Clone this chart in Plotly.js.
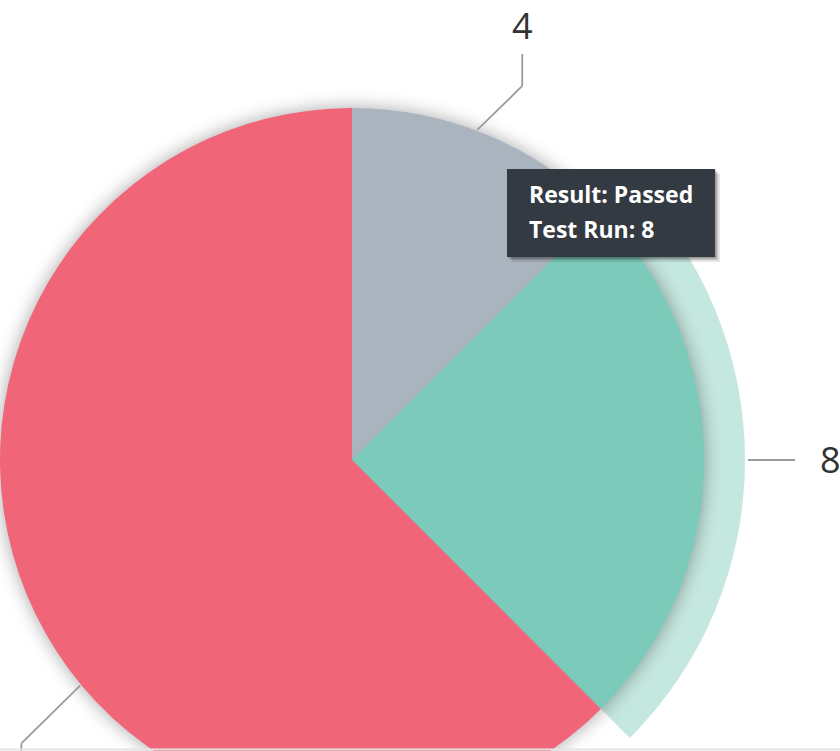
<!DOCTYPE html>
<html>
<head>
<meta charset="utf-8">
<script src="https://cdn.plot.ly/plotly-3.0.1.min.js"></script>
<style>
  html, body { margin: 0; padding: 0; width: 840px; height: 751px; overflow: hidden; background: #fff; }
  #chart { position: absolute; left: -50px; top: 0; width: 940px; height: 920px; }
</style>
</head>
<body>
<div id="chart"></div>
<script>
// ---- data ----
const categories = ["Not Run", "Passed", "Failed"];
const testRuns = [4, 8, 20];
const sliceColors = ["#aab4be", "#7ccab9", "#f06578"];
const tooltipLines = ["Result: Passed", "Test Run: 8"];
const hoveredIndex = 1;

// ---- geometry (page pixels) ----
const W = 940, H = 920, OFFX = 50;      // div size and left offset
const CX = 352, CY = 460, R = 352;      // pie center and radius
const HALO = 41;                        // halo ring width
const px = x => (x + OFFX) / W;
const py = y => 1 - y / H;

const total = testRuns.reduce((a, b) => a + b, 0);
function midAngle(i) {
  let s = 0; for (let k = 0; k < i; k++) s += testRuns[k];
  return (s + testRuns[i] / 2) / total * 2 * Math.PI;
}
function polar(a, r) { return [CX + r * Math.sin(a), CY - r * Math.cos(a)]; }

const mainDomain = { x: [px(CX - R), px(CX + R)], y: [py(CY + R), py(CY - R)] };
const haloDomain = { x: [px(CX - R - HALO), px(CX + R + HALO)], y: [py(CY + R + HALO), py(CY - R - HALO)] };

const haloColors = sliceColors.map((c, i) => i === hoveredIndex ? "rgba(124,202,185,0.45)" : "rgba(0,0,0,0)");

const traces = [
  {
    type: "pie", values: testRuns, labels: categories, sort: false, direction: "clockwise", rotation: 0,
    marker: { colors: haloColors, line: { width: 0 } }, textinfo: "none", hoverinfo: "skip",
    domain: haloDomain, showlegend: false
  },
  {
    type: "pie", values: testRuns, labels: categories, sort: false, direction: "clockwise", rotation: 0,
    marker: { colors: sliceColors, line: { width: 0 } }, textinfo: "none", hoverinfo: "none",
    domain: mainDomain, showlegend: false
  }
];

// ---- data-label connectors ----
const lineStyle = { color: "#9a9a9a", width: 1.8 };
const shapes = [];
const annotations = [];
function seg(a, b) {
  shapes.push({ type: "line", xref: "paper", yref: "paper", x0: px(a[0]), y0: py(a[1]), x1: px(b[0]), y1: py(b[1]), line: lineStyle, layer: "above" });
}
const labelFont = { family: "Open Sans, sans-serif", size: 36, color: "#333333" };

// label 0 (top): start on pie edge, diagonal, then vertical
{
  const a = midAngle(0) - 0.03;
  const p0 = polar(a, R + 1);
  const p1 = [p0[0] + 45, p0[1] - 44];
  const p2 = [p1[0], p1[1] - 32];
  seg(p0, p1); seg(p1, p2);
  annotations.push({ xref: "paper", yref: "paper", x: px(p2[0]), y: py(p2[1] - 28.5), text: String(testRuns[0]), showarrow: false, font: labelFont, xanchor: "center", yanchor: "middle", borderpad: 0 });
}
// label 1 (right): horizontal from halo edge
{
  const a = midAngle(1);
  const p0 = polar(a, R + HALO + 3);
  const p1 = [p0[0] + 47, p0[1]];
  seg(p0, p1);
  annotations.push({ xref: "paper", yref: "paper", x: px(p1[0] + 35), y: py(p1[1] - 1), text: String(testRuns[1]), showarrow: false, font: labelFont, xanchor: "center", yanchor: "middle", borderpad: 0 });
}
// label 2 (bottom-left): diagonal then vertical down; its text lies below the visible area
{
  const a = midAngle(2) - 0.3;
  const p0 = polar(a, R + 1);
  const p1 = [p0[0] - 59, p0[1] + 58];
  const p2 = [p1[0], p1[1] + 40];
  seg(p0, p1); seg(p1, p2);
}

// ---- tooltip ----
const tip = { x0: 507, y0: 169, x1: 715, y1: 257 };
function rect(x0, y0, x1, y1, fill) {
  shapes.push({ type: "rect", xref: "paper", yref: "paper", x0: px(x0), y0: py(y1), x1: px(x1), y1: py(y0), fillcolor: fill, line: { width: 0 }, layer: "above" });
}
rect(tip.x0 + 5, tip.y0 + 5, tip.x1 + 5, tip.y1 + 5, "rgba(0,0,0,0.10)");
rect(tip.x0 + 3, tip.y0 + 3, tip.x1 + 3, tip.y1 + 3, "rgba(0,0,0,0.15)");
rect(tip.x0 + 1.5, tip.y0 + 1.5, tip.x1 + 1.5, tip.y1 + 1.5, "rgba(0,0,0,0.2)");
rect(tip.x0, tip.y0, tip.x1, tip.y1, "#343a41");
const tipFont = { family: "Open Sans, sans-serif", size: 23, color: "#ffffff" };
tooltipLines.forEach((t, i) => {
  annotations.push({ xref: "paper", yref: "paper", x: px(tip.x0 + 20), y: py(194 + i * 35), text: "<b>" + t + "</b>", showarrow: false, font: tipFont, xanchor: "left", yanchor: "middle" });
});

// bottom border line
shapes.push({ type: "line", xref: "paper", yref: "paper", x0: px(0), x1: px(840), y0: py(749.5), y1: py(749.5), line: { color: "#e4e4e4", width: 2 }, layer: "above" });

const layout = {
  width: W, height: H,
  margin: { l: 0, r: 0, t: 0, b: 0, pad: 0 },
  paper_bgcolor: "#ffffff", plot_bgcolor: "#ffffff",
  showlegend: false,
  shapes: shapes, annotations: annotations
};

Plotly.newPlot("chart", traces, layout, { displayModeBar: false, staticPlot: true }).then(() => {
  const tr = document.querySelectorAll(".pielayer .trace");
  if (tr.length > 1) tr[1].style.filter = "drop-shadow(0px 0px 9px rgba(0,0,0,0.35))";
});
</script>
</body>
</html>
